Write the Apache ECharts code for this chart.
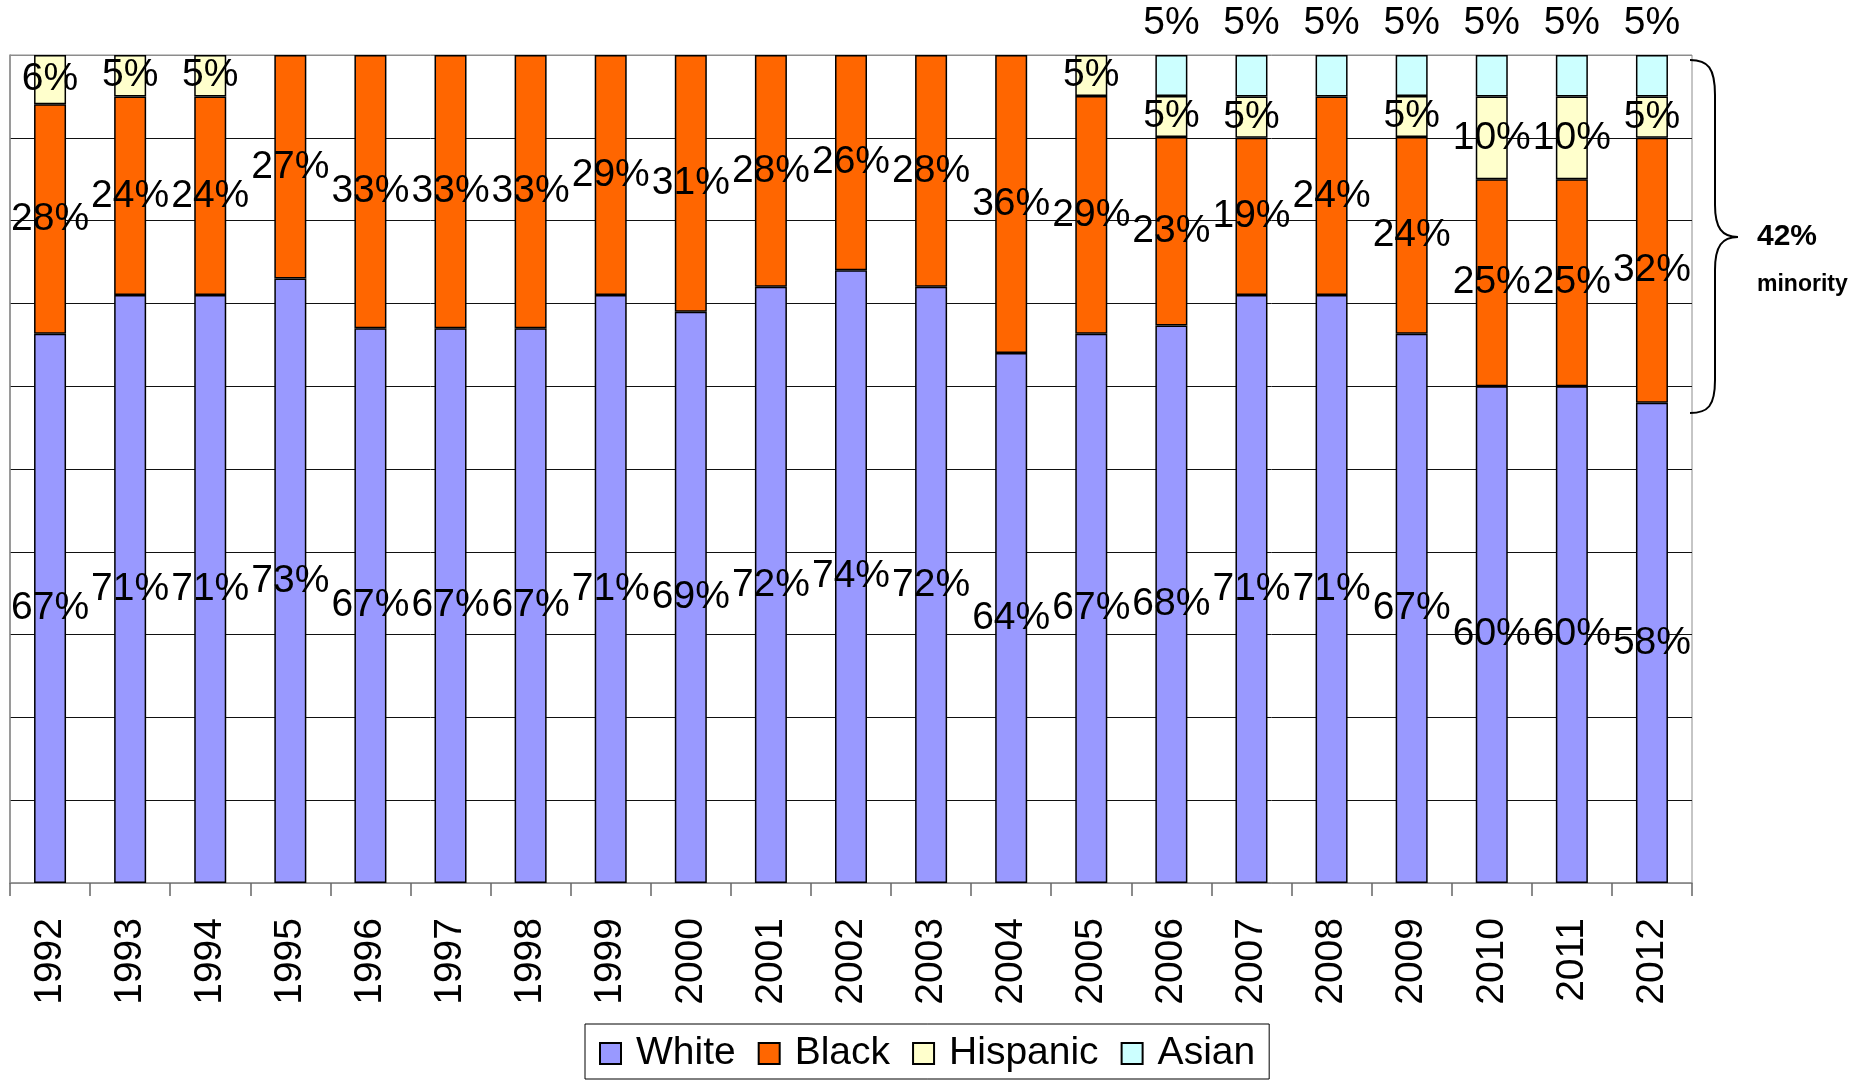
<!DOCTYPE html>
<html>
<head>
<meta charset="utf-8">
<script src="https://cdn.jsdelivr.net/npm/echarts@6/dist/echarts.min.js"></script>
<style>
  html, body { margin: 0; padding: 0; background: #fff; }
  #chart { width: 1856px; height: 1082px; }
</style>
</head>
<body>
<div id="chart"></div>
<script>
const years = ["1992", "1993", "1994", "1995", "1996", "1997", "1998", "1999", "2000", "2001", "2002",
  "2003", "2004", "2005", "2006", "2007", "2008", "2009", "2010", "2011", "2012"];
const white = [67, 71, 71, 73, 67, 67, 67, 71, 69, 72, 74, 72, 64, 67, 68, 71, 71, 67, 60, 60, 58];
const black = [28, 24, 24, 27, 33, 33, 33, 29, 31, 28, 26, 28, 36, 29, 23, 19, 24, 24, 25, 25, 32];
const hispanic = [6, 5, 5, 0, 0, 0, 0, 0, 0, 0, 0, 0, 0, 5, 5, 5, 0, 5, 10, 10, 5];
const asian = [0, 0, 0, 0, 0, 0, 0, 0, 0, 0, 0, 0, 0, 0, 5, 5, 5, 5, 5, 5, 5];
const yTicks = [0, 10, 20, 30, 40, 50, 60, 70, 80, 90, 100];

const groups = [
  { name: "White", data: white, color: "#9999FF" },
  { name: "Black", data: black, color: "#FF6600" },
  { name: "Hispanic", data: hispanic, color: "#FFFFCC" },
  { name: "Asian", data: asian, color: "#CCFFFF" },
];

// 100% stacked: each year scaled to its own total
const totals = years.map((y, i) => groups.reduce((s, g) => s + g.data[i], 0));

const font = "'Liberation Sans', Arial, sans-serif";
const braceStyle = { stroke: "#000", lineWidth: 2, fill: null };

let myChart = echarts.init(document.getElementById("chart"));
myChart.setOption({
  animation: false,
  textStyle: { fontFamily: font },
  grid: {
    left: 10,
    right: 164,
    top: 55,
    bottom: 199,
    show: true,
    borderColor: "#8c8c8c",
    borderWidth: 1,
  },
  legend: {
    left: 585,
    top: 1024,
    padding: [10, 14, 6, 14],
    itemGap: 22,
    itemWidth: 21,
    itemHeight: 21,
    icon: "rect",
    borderColor: "#000",
    borderWidth: 1,
    textStyle: { fontSize: 39, color: "#000", fontFamily: font, padding: [0, 0, 0, 10] },
    data: groups.map((g) => g.name),
  },
  xAxis: {
    type: "category",
    data: years,
    axisLine: { lineStyle: { color: "#8c8c8c", width: 1.5 } },
    axisTick: { show: true, length: 13, lineStyle: { color: "#666", width: 1.5 } },
    axisLabel: { rotate: 90, fontSize: 39, color: "#000", margin: 35, fontFamily: font },
  },
  yAxis: {
    type: "value",
    min: yTicks[0],
    max: yTicks[yTicks.length - 1],
    interval: 10,
    axisLabel: { show: false },
    axisTick: { show: false },
    axisLine: { show: true, lineStyle: { color: "#8c8c8c", width: 1.5 } },
    splitLine: {
      lineStyle: {
        color: yTicks.map((t, i) => (i === 0 || i === yTicks.length - 1 ? "#8c8c8c" : "#111")),
        width: 1,
      },
    },
  },
  series: groups.map((g, gi) => ({
    name: g.name,
    type: "bar",
    stack: "total",
    barWidth: 32,
    itemStyle: { color: g.color, borderColor: "#000", borderWidth: 1.5 },
    label: {
      show: true,
      position: gi === 3 ? "top" : "inside",
      distance: 12,
      fontSize: 39,
      color: "#000",
      fontFamily: font,
      formatter: (p) => (p.data && p.data.raw ? p.data.raw + "%" : ""),
    },
    data: g.data.map((v, i) => (v ? { value: (v / totals[i]) * 100, raw: v } : "-")),
  })),
  graphic: [
    // curly brace for the minority share
    { type: "bezierCurve", shape: { x1: 1690, y1: 60, cpx1: 1708, cpy1: 60, cpx2: 1715, cpy2: 68, x2: 1715, y2: 95 }, style: braceStyle },
    { type: "line", shape: { x1: 1715, y1: 95, x2: 1715, y2: 205 }, style: braceStyle },
    { type: "bezierCurve", shape: { x1: 1715, y1: 205, cpx1: 1715, cpy1: 228, cpx2: 1722, cpy2: 237, x2: 1738, y2: 237 }, style: braceStyle },
    { type: "bezierCurve", shape: { x1: 1738, y1: 237, cpx1: 1722, cpy1: 237, cpx2: 1715, cpy2: 246, x2: 1715, y2: 270 }, style: braceStyle },
    { type: "line", shape: { x1: 1715, y1: 270, x2: 1715, y2: 380 }, style: braceStyle },
    { type: "bezierCurve", shape: { x1: 1715, y1: 380, cpx1: 1715, cpy1: 406, cpx2: 1708, cpy2: 413, x2: 1690, y2: 413 }, style: braceStyle },
    {
      type: "text",
      left: 1757,
      top: 222,
      style: { text: "42%", font: "bold 30px " + font, fill: "#000" },
    },
    {
      type: "text",
      left: 1757,
      top: 273,
      style: { text: "minority", font: "bold 23px " + font, fill: "#000" },
    },
  ],
});
</script>
</body>
</html>
